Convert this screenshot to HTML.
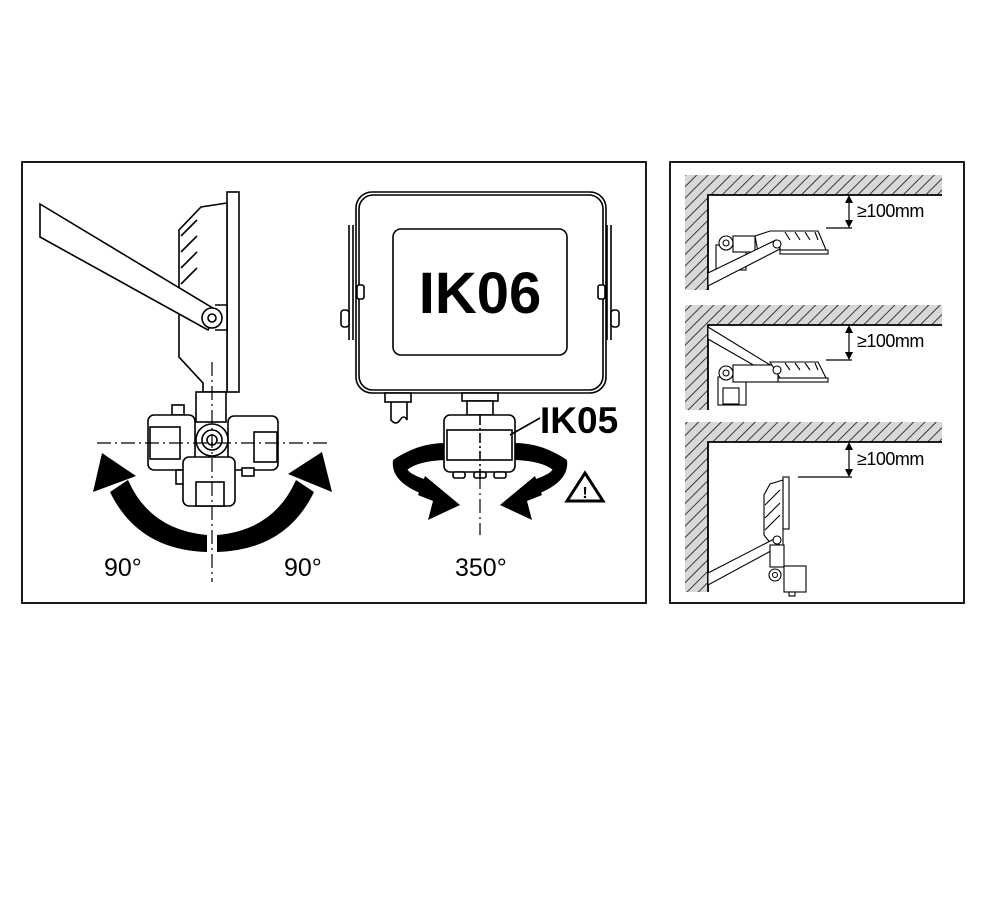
<!DOCTYPE html>
<html><head><meta charset="utf-8"><style>
html,body{margin:0;padding:0;background:#fff;}
svg{display:block;}
text{font-family:"Liberation Sans",Arial,sans-serif;fill:#000;}
</style></head><body>
<svg width="1000" height="913" viewBox="0 0 1000 913" xmlns="http://www.w3.org/2000/svg">
<defs>
<pattern id="h" width="8" height="8" patternUnits="userSpaceOnUse" patternTransform="rotate(45)">
<rect width="8" height="8" fill="#d8d8d8"/><line x1="0" y1="0" x2="0" y2="8" stroke="#111" stroke-width="1.6"/>
</pattern>
</defs>
<g fill="none" stroke="#000" stroke-width="1.8">
<rect x="22" y="162" width="624" height="441"/>
<rect x="670" y="162" width="294" height="441"/>
</g>

<!-- LEFT FIGURE -->
<g stroke="#000" stroke-width="1.6" fill="#fff">
<rect x="227" y="192" width="12" height="200"/>
<path d="M227,203 L201,207 L179,230 L179,357 L203,383 L203,392 L227,392 Z"/>
<path d="M181,236 L197,220 M181,252 L197,236 M181,268 L197,252 M181,284 L197,268" fill="none"/>
<path d="M215,305 L227,305 L227,330 L215,330" />
<polygon points="40,204 216,310 208,330 40,237"/>
<circle cx="212" cy="318" r="10"/>
<circle cx="212" cy="318" r="4"/>
<rect x="196" y="392" width="30" height="30"/>
<rect x="172" y="405" width="12" height="10"/>
<rect x="148" y="415" width="47" height="55" rx="6"/>
<rect x="150" y="427" width="30" height="32"/>
<rect x="228" y="416" width="50" height="54" rx="6"/>
<rect x="254" y="432" width="23" height="30"/>
<rect x="176" y="470" width="8" height="14"/>
<rect x="242" y="468" width="12" height="8"/>
<rect x="183" y="457" width="52" height="49" rx="6"/>
<rect x="196" y="482" width="28" height="24"/>
<circle cx="212" cy="440" r="16"/>
<circle cx="212" cy="440" r="10"/>
<circle cx="212" cy="440" r="5"/>
</g>
<g stroke="#000" stroke-width="1.2" stroke-dasharray="14,4,2,4" fill="none">
<line x1="97" y1="443" x2="330" y2="443"/>
<line x1="212" y1="362" x2="212" y2="582"/>
<line x1="480" y1="355" x2="480" y2="535"/>
</g>
<!-- 90/90 arrow -->
<g fill="#000">
<path d="M110,492 Q138,550 207,552 L207,535 Q150,530 128,480 Z"/>
<path d="M314,492 Q286,550 217,552 L217,535 Q274,530 296,480 Z"/>
<polygon points="102,453 93,492 136,476"/>
<polygon points="322,452 288,474 332,492"/>
</g>
<text x="104" y="576" font-size="25">90°</text>
<text x="284" y="576" font-size="25">90°</text>

<!-- MIDDLE FIGURE -->
<g stroke="#000" stroke-width="1.6" fill="#fff">
<path d="M349,225 L349,340 M353,225 L353,340 M607,225 L607,340 M611,225 L611,340" fill="none"/>
<rect x="341" y="310" width="8" height="17" rx="3"/>
<rect x="611" y="310" width="8" height="17" rx="3"/>
<rect x="356" y="192" width="250" height="201" rx="16"/>
<rect x="359" y="195" width="244" height="195" rx="14" fill="none"/>
<rect x="357" y="285" width="7" height="14" rx="2"/>
<rect x="598" y="285" width="7" height="14" rx="2"/>
<rect x="393" y="229" width="174" height="126" rx="8"/>
<rect x="385" y="393" width="26" height="9"/>
<path d="M391,402 L391,420 Q396,426 400,420 Q404,414 407,420 L407,402" fill="none"/>
<rect x="462" y="393" width="36" height="8"/>
<rect x="467" y="401" width="26" height="14"/>
</g>
<!-- ring -->
<g fill="#000">
<path d="M393,460 Q418,443 445,443 L445,460 Q418,461 407,470 Z"/>
<path d="M567,460 Q542,443 515,443 L515,460 Q542,461 553,470 Z"/>
<path d="M393,460 Q390,482 425,495 L433,482 Q407,474 407,468 Z"/>
<path d="M567,460 Q570,482 535,495 L527,482 Q553,474 553,468 Z"/>
<polygon points="425,476 460,505 428,520 433,501 418,495"/>
<polygon points="535,476 500,505 532,520 527,501 542,495"/>
</g>
<g stroke="#000" stroke-width="1.6" fill="#fff">
<rect x="444" y="415" width="71" height="57" rx="6"/>
<rect x="447" y="430" width="65" height="30"/>
<rect x="453" y="472" width="12" height="6" rx="2"/>
<rect x="474" y="472" width="12" height="6" rx="2"/>
<rect x="494" y="472" width="12" height="6" rx="2"/>
<line x1="510" y1="435" x2="540" y2="418"/>
<line x1="480" y1="415" x2="480" y2="480" stroke-dasharray="10,3,2,3"/>
</g>
<polygon points="585,473 567,501 603,501" fill="none" stroke="#000" stroke-width="3"/>
<text x="585" y="498" font-size="16" font-weight="bold" text-anchor="middle">!</text>
<text x="480" y="313" font-size="58" font-weight="bold" text-anchor="middle">IK06</text>
<text x="540" y="433" font-size="37" font-weight="bold">IK05</text>
<text x="455" y="576" font-size="25">350°</text>

<!-- RIGHT PANEL -->
<g stroke="none" fill="url(#h)">
<polygon points="685,175 942,175 942,195 708,195 708,290 685,290"/>
<polygon points="685,305 942,305 942,325 708,325 708,410 685,410"/>
<polygon points="685,422 942,422 942,442 708,442 708,592 685,592"/>
</g>
<g stroke="#000" stroke-width="1.8" fill="none">
<path d="M942,195 L708,195 L708,290"/>
<path d="M942,325 L708,325 L708,410"/>
<path d="M942,442 L708,442 L708,592"/>
</g>
<g stroke="#000" stroke-width="1.2" fill="none">
<line x1="849" y1="199" x2="849" y2="225"/><line x1="826" y1="228" x2="852" y2="228"/>
<line x1="849" y1="329" x2="849" y2="357"/><line x1="826" y1="360" x2="852" y2="360"/>
<line x1="849" y1="446" x2="849" y2="474"/><line x1="798" y1="477" x2="852" y2="477"/>
</g>
<g fill="#000">
<polygon points="849,195 845,203 853,203"/><polygon points="849,228 845,220 853,220"/>
<polygon points="849,325 845,333 853,333"/><polygon points="849,360 845,352 853,352"/>
<polygon points="849,442 845,450 853,450"/><polygon points="849,477 845,469 853,469"/>
</g>
<text x="857" y="217" font-size="18" letter-spacing="-0.5">≥100mm</text>
<text x="857" y="347" font-size="18" letter-spacing="-0.5">≥100mm</text>
<text x="857" y="465" font-size="18" letter-spacing="-0.5">≥100mm</text>

<!-- small luminaires -->
<g stroke="#000" stroke-width="1.1" fill="#fff">
<rect x="716" y="245" width="30" height="25"/>
<circle cx="726" cy="243" r="7"/><circle cx="726" cy="243" r="3"/>
<rect x="733" y="236" width="22" height="16"/>
<path d="M755,236 L770,231 L818,231 L824,245 L826,250 L780,250 L780,244 L758,252 Z"/>
<path d="M785,232 L790,240 M795,232 L800,240 M805,232 L810,240 M815,232 L818,240"/>
<rect x="780" y="250" width="48" height="4"/>
<polygon points="708,273 776,240 780,249 708,286"/>
<circle cx="777" cy="244" r="4"/>
<polygon points="708,327 780,371 776,378 708,339"/>
<rect x="718" y="377" width="28" height="28"/>
<rect x="723" y="388" width="16" height="16"/>
<circle cx="726" cy="373" r="7"/><circle cx="726" cy="373" r="3"/>
<rect x="733" y="365" width="45" height="17"/>
<path d="M770,362 L818,362 L826,378 L780,378 Z"/>
<path d="M785,363 L790,370 M795,363 L800,370 M805,363 L810,370 M815,363 L818,370"/>
<rect x="778" y="378" width="50" height="4"/>
<circle cx="777" cy="370" r="4"/>
<rect x="783" y="477" width="6" height="52"/>
<path d="M783,480 L770,484 L764,495 L764,535 L772,545 L783,545 Z"/>
<path d="M765,505 L780,490 M765,518 L780,503 M765,530 L780,515" fill="none"/>
<polygon points="708,573 776,538 780,546 708,585"/>
<circle cx="777" cy="540" r="4"/>
<rect x="770" y="545" width="14" height="22"/>
<rect x="784" y="566" width="22" height="26"/>
<circle cx="775" cy="575" r="6"/><circle cx="775" cy="575" r="2.5"/>
<rect x="789" y="592" width="6" height="4"/>
</g>
</svg>
</body></html>
